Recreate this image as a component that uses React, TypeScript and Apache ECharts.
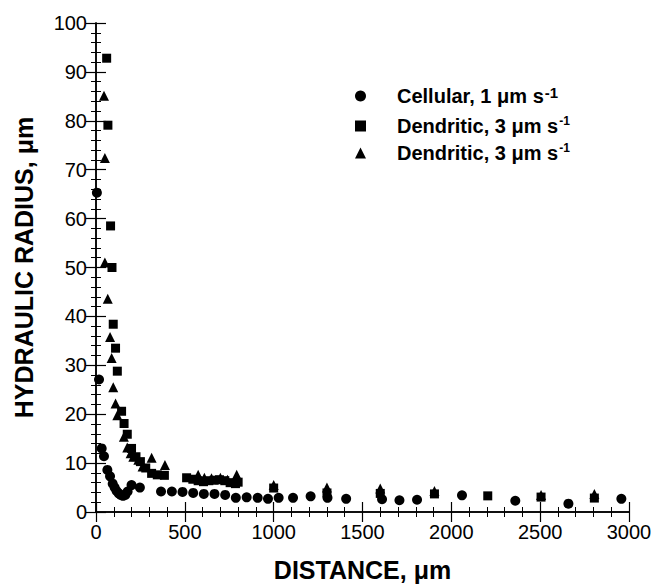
import React, { useEffect, useRef } from "react";
import * as echarts from "echarts";

const FONT = "'Liberation Sans', Arial, Helvetica, sans-serif";

const xTicks = [0, 500, 1000, 1500, 2000, 2500, 3000];
const yTicks = [0, 10, 20, 30, 40, 50, 60, 70, 80, 90, 100];

const cellularX = [5, 17, 32, 45, 64, 79, 94, 105, 116, 128, 139, 152, 165, 178, 200, 247, 366, 427, 487, 547, 607, 667, 727, 787, 848, 910, 968, 1028, 1109, 1208, 1303, 1408, 1610, 1708, 1807, 2060, 2360, 2659, 2957];
const cellularY = [65.3, 27.1, 13.0, 11.4, 8.6, 7.3, 5.8, 5.0, 4.3, 3.8, 3.5, 3.3, 3.5, 4.2, 5.5, 5.0, 4.2, 4.2, 4.1, 3.9, 3.7, 3.7, 3.5, 2.9, 3.0, 2.9, 2.7, 2.9, 2.9, 3.2, 2.9, 2.7, 2.6, 2.4, 2.5, 3.4, 2.3, 1.7, 2.7];

const dendAX = [60, 67, 82, 90, 97, 110, 120, 144, 158, 176, 200, 225, 250, 280, 313, 345, 385, 510, 545, 575, 605, 635, 665, 695, 725, 755, 785, 800, 1000, 1300, 1600, 1905, 2205, 2505, 2805];
const dendAY = [92.8, 79.1, 58.5, 50.0, 38.4, 33.5, 28.8, 20.6, 18.1, 15.9, 13.0, 11.3, 10.3, 9.0, 7.9, 7.6, 7.5, 7.0, 6.7, 6.4, 6.2, 6.4, 6.5, 6.6, 6.4, 6.0, 5.8, 6.1, 4.9, 3.9, 3.8, 3.7, 3.3, 3.05, 2.85];

const dendBX = [45, 50, 50, 66, 79, 88, 97, 110, 120, 157, 176, 195, 210, 238, 262, 313, 388, 575, 610, 650, 700, 740, 792, 1000, 1300, 1600, 1905, 2505, 2805];
const dendBY = [85.1, 72.4, 51.0, 43.6, 35.8, 31.5, 25.5, 22.2, 19.8, 15.4, 13.2, 12.0, 11.3, 10.7, 9.3, 11.1, 9.6, 7.6, 7.0, 6.9, 7.0, 6.6, 7.6, 5.5, 5.0, 4.8, 4.3, 3.5, 3.7];

const seriesNames = ["Cellular", "Dendritic A", "Dendritic B"];
const legendLabels: Record<string, string> = {
  Cellular: "{a|Cellular, 1 μm s}{c|-1}",
  "Dendritic A": "{a|Dendritic, 3 μm s}{b|-1}",
  "Dendritic B": "{a|Dendritic, 3 μm s}{b|-1}",
};

const zip = (xs: number[], ys: number[]) => xs.map((x, i) => [x, ys[i]]);

export default function App() {
  const ref = useRef<HTMLDivElement>(null);
  useEffect(() => {
    if (!ref.current) return;
    const chart = echarts.init(ref.current, undefined, { renderer: "svg" });
    const axisLine = { show: true, lineStyle: { color: "#000", width: 1.5 } };
    const tick = { show: true, inside: true, length: 10, lineStyle: { color: "#000", width: 1.2 } };
    const minor = { show: true, splitNumber: 5, length: 5, lineStyle: { color: "#000", width: 1 } };
    chart.setOption({
      animation: false,
      backgroundColor: "#fff",
      grid: { left: 96, top: 23, right: 36, bottom: 72, containLabel: false },
      legend: {
        orient: "vertical",
        left: 355,
        top: 85,
        padding: 0,
        itemGap: 5,
        itemWidth: 11,
        itemHeight: 11,
        selectedMode: false,
        data: seriesNames,
        formatter: (n: string) => legendLabels[n],
        textStyle: {
          color: "#000",
          fontFamily: FONT,
          rich: {
            a: { fontSize: 20, fontWeight: "bold", fontFamily: FONT, color: "#000", lineHeight: 22, padding: [0, 0, 0, 26] },
            c: { fontSize: 15, fontWeight: "bold", fontFamily: FONT, color: "#000", verticalAlign: "top", lineHeight: 22, padding: [0, 0, 10, 1] },
            b: { fontSize: 12, fontWeight: "bold", fontFamily: FONT, color: "#000", verticalAlign: "top", lineHeight: 22, padding: [0, 0, 10, 1] },
          },
        },
      },
      xAxis: [
        {
          type: "value",
          min: xTicks[0],
          max: xTicks[xTicks.length - 1],
          interval: 500,
          position: "bottom",
          name: "DISTANCE, μm",
          nameLocation: "middle",
          nameGap: 45,
          nameTextStyle: { color: "#000", fontFamily: FONT, fontWeight: "bold", fontSize: 25 },
          axisLine,
          axisTick: tick,
          minorTick: minor,
          splitLine: { show: false },
          axisLabel: { color: "#000", fontFamily: FONT, fontSize: 20, margin: 10, formatter: (v: number) => String(v) },
        },
        {
          type: "value",
          min: xTicks[0],
          max: xTicks[xTicks.length - 1],
          interval: 500,
          position: "top",
          axisLine,
          axisTick: tick,
          minorTick: minor,
          splitLine: { show: false },
          axisLabel: { show: false },
        },
      ],
      yAxis: [
        {
          type: "value",
          min: yTicks[0],
          max: yTicks[yTicks.length - 1],
          interval: 10,
          position: "left",
          name: "HYDRAULIC RADIUS, μm",
          nameLocation: "middle",
          nameGap: 60,
          nameTextStyle: { color: "#000", fontFamily: FONT, fontWeight: "bold", fontSize: 25 },
          axisLine,
          axisTick: tick,
          minorTick: minor,
          splitLine: { show: false },
          axisLabel: { color: "#000", fontFamily: FONT, fontSize: 20, margin: 9, formatter: (v: number) => String(v) },
        },
        {
          type: "value",
          min: yTicks[0],
          max: yTicks[yTicks.length - 1],
          interval: 10,
          position: "right",
          axisLine,
          axisTick: tick,
          minorTick: minor,
          splitLine: { show: false },
          axisLabel: { show: false },
        },
      ],
      series: [
        {
          name: seriesNames[0],
          type: "scatter",
          symbol: "circle",
          symbolSize: 10,
          itemStyle: { color: "#000", opacity: 1 },
          data: zip(cellularX, cellularY),
        },
        {
          name: seriesNames[1],
          type: "scatter",
          symbol: "rect",
          symbolSize: 9,
          itemStyle: { color: "#000", opacity: 1 },
          data: zip(dendAX, dendAY),
        },
        {
          name: seriesNames[2],
          type: "scatter",
          symbol: "triangle",
          symbolSize: 10,
          itemStyle: { color: "#000", opacity: 1 },
          data: zip(dendBX, dendBY),
        },
      ],
    });
    return () => chart.dispose();
  }, []);
  return (
    <div
      ref={ref}
      style={{ position: "fixed", left: 0, top: 0, width: 665, height: 587, background: "#fff" }}
    />
  );
}
